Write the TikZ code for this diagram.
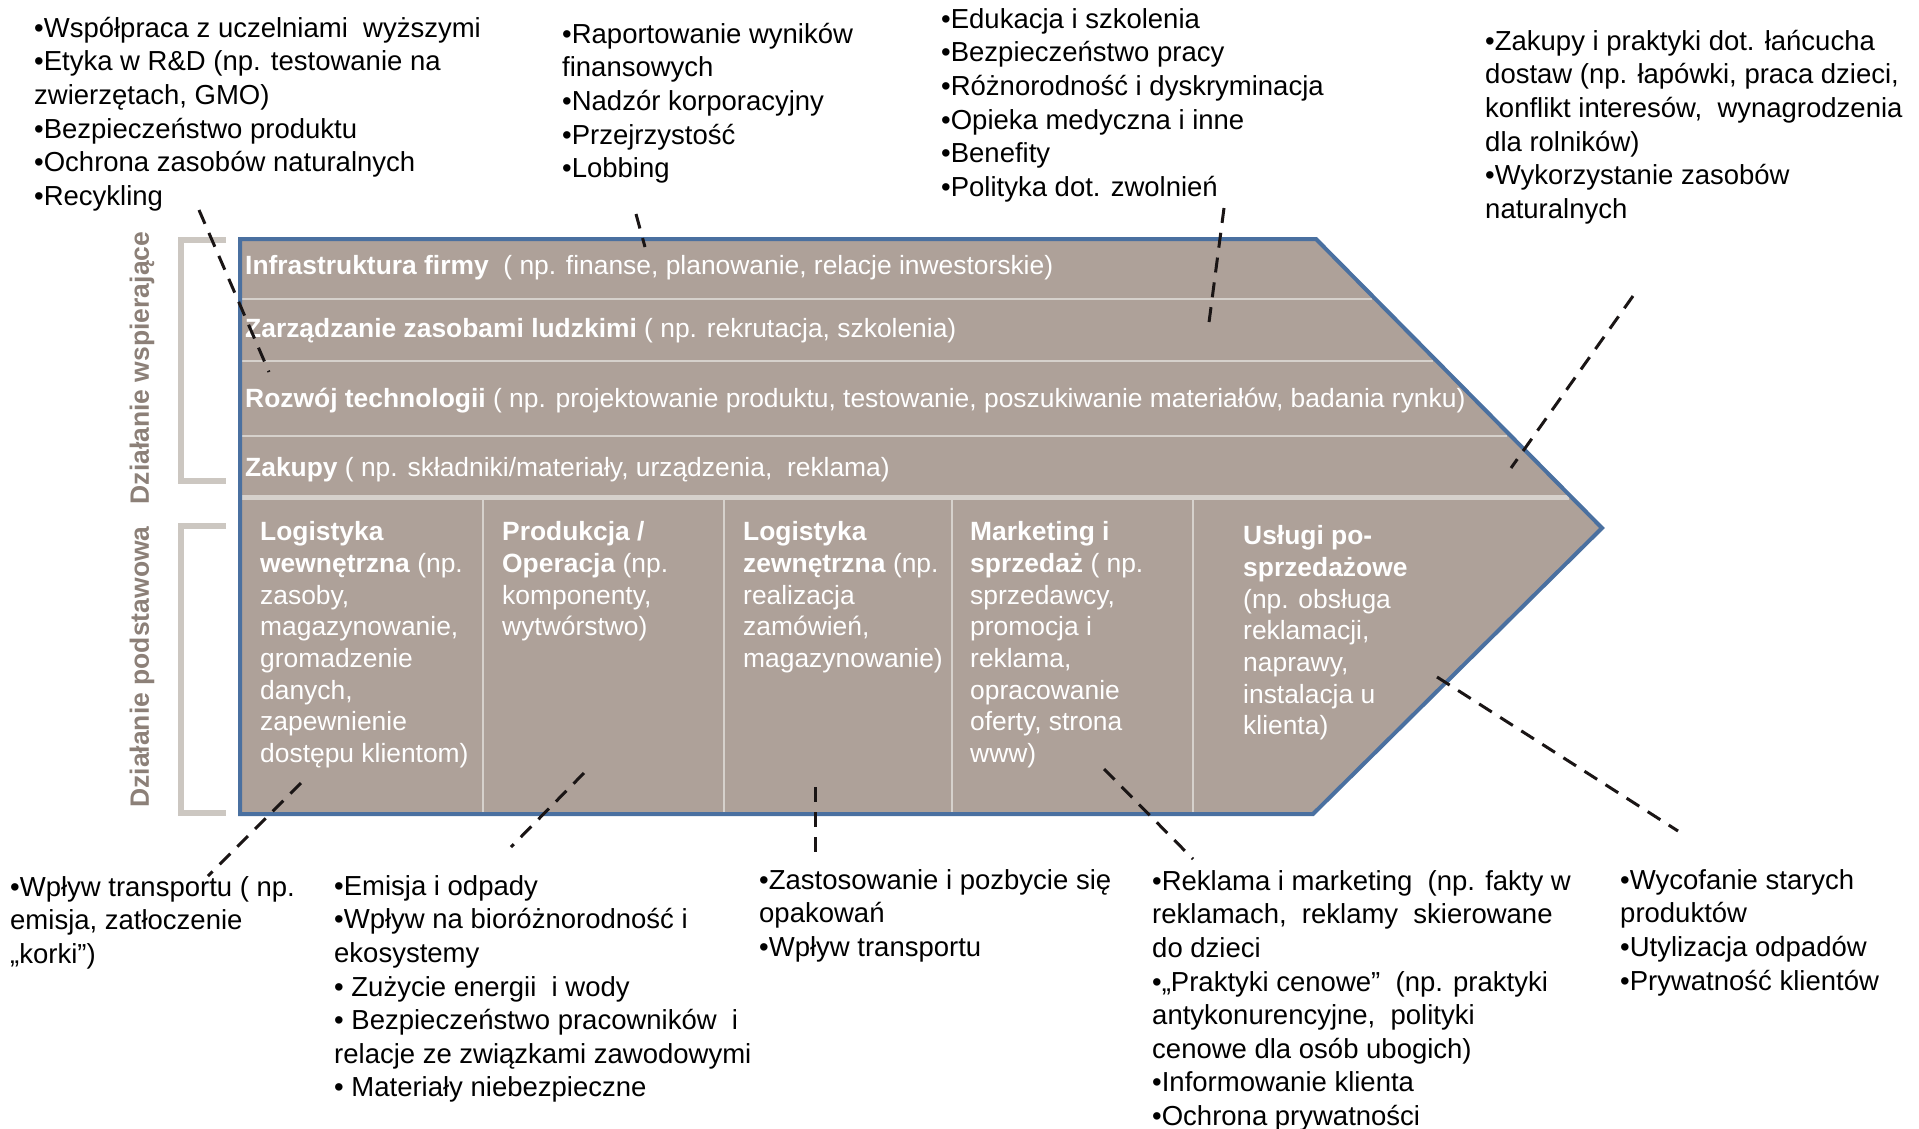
\documentclass[tikz,border=0pt]{standalone}
\usepackage{fontspec}
\setmainfont{Liberation Sans}
\definecolor{taupe}{HTML}{AEA199}
\definecolor{vblue}{HTML}{4A70A0}
\definecolor{divgray}{HTML}{D6D1CC}
\definecolor{brgray}{HTML}{CCC7C1}
\definecolor{lblgray}{HTML}{8C8078}
\definecolor{dashblack}{HTML}{1A1515}
\newcommand{\ostrut}{\rule{0pt}{26pt}}
\newcommand{\bstrut}{\rule{0pt}{25pt}}
\begin{document}
\begin{tikzpicture}[x=1pt,y=-1pt,
  outtxt/.style={anchor=north west, inner sep=0pt, align=left, font=\fontsize{27.5}{33.6}\selectfont},
  rowtxt/.style={anchor=base west, inner sep=0pt, text=white, font=\fontsize{26.4}{31.7}\selectfont},
  coltxt/.style={rowtxt, anchor=north west, align=left},
  conn/.style={draw=dashblack, line width=3pt, dash pattern=on 15pt off 10pt},
  bracketline/.style={draw=brgray, line width=6pt},
  divline/.style={draw=divgray, line width=2.5pt},
  sidelbl/.style={rotate=90, text=lblgray, font=\bfseries\fontsize{26.5}{30}\selectfont, inner sep=0pt}
]
\fill[white] (0,0) rectangle (1919,1128);
\useasboundingbox (0,0) rectangle (1919,1128);

% chevron shape
\coordinate (tl) at (240,239);
\coordinate (tr) at (1316,239);
\coordinate (tip) at (1602,528);
\coordinate (br) at (1313,814);
\coordinate (bl) at (240,814);
\fill[taupe] (tl) -- (tr) -- (tip) -- (br) -- (bl) -- cycle;

% support rows dividers
\draw[divline] (240,299) -- (1372,299);
\draw[divline] (240,361) -- (1433,361);
\draw[divline] (240,436) -- (1507,436);
\draw[draw=divgray, line width=5pt] (240,497) -- (1569,497);
% primary columns dividers
\foreach \xx in {483,724,952,1193} \draw[divline] (\xx,497) -- (\xx,814);

\draw[vblue, line width=4pt, line join=miter] (tl) -- (tr) -- (tip) -- (br) -- (bl) -- cycle;

% brackets
\draw[bracketline] (226,240) -- (181,240) -- (181,481) -- (226,481);
\draw[bracketline] (226,526) -- (181,526) -- (181,813) -- (226,813);
\node[sidelbl] (lsup) at (142,368) {Działanie wspierające};
\node[sidelbl] (lpri) at (142,667) {Działanie podstawowa};

% support rows text
\node[rowtxt] (r1) at (245,274) {\textbf{Infrastruktura firmy}\ \ ( np. finanse, planowanie, relacje inwestorskie)};
\node[rowtxt] (r2) at (245,337.5) {\textbf{Zarządzanie zasobami ludzkimi} ( np. rekrutacja, szkolenia)};
\node[rowtxt] (r3) at (245,407) {\textbf{Rozwój technologii} ( np. projektowanie produktu, testowanie, poszukiwanie materiałów, badania rynku)};
\node[rowtxt] (r4) at (245,476) {\textbf{Zakupy} ( np. składniki/materiały, urządzenia,\ \ reklama)};

% primary columns text
\node[coltxt] (c1) at (260,515.5) {\bstrut\textbf{Logistyka}\\\textbf{wewnętrzna} (np.\\zasoby,\\magazynowanie,\\gromadzenie\\danych,\\zapewnienie\\dostępu klientom)};
\node[coltxt] (c2) at (502,515.5) {\bstrut\textbf{Produkcja /}\\\textbf{Operacja} (np.\\komponenty,\\wytwórstwo)};
\node[coltxt] (c3) at (743,515.5) {\bstrut\textbf{Logistyka}\\\textbf{zewnętrzna} (np.\\realizacja\\zamówień,\\magazynowanie)};
\node[coltxt] (c4) at (970,515.5) {\bstrut\textbf{Marketing i}\\\textbf{sprzedaż} ( np.\\sprzedawcy,\\promocja i\\reklama,\\opracowanie\\oferty, strona\\www)};
\node[coltxt] (c5) at (1243,519.5) {\bstrut\textbf{Usługi po-}\\\textbf{sprzedażowe}\\(np. obsługa\\reklamacji,\\naprawy,\\instalacja u\\klienta)};

% outside text blocks
\node[outtxt] (t1) at (34,11) {\ostrut•Współpraca z uczelniami\ \ wyższymi\\•Etyka w R\&D (np. testowanie na\\zwierzętach, GMO)\\•Bezpieczeństwo produktu\\•Ochrona zasobów naturalnych\\•Recykling};
\node[outtxt] (t2) at (562,17) {\ostrut•Raportowanie wyników\\finansowych\\•Nadzór korporacyjny\\•Przejrzystość\\•Lobbing};
\node[outtxt] (t3) at (941,2) {\ostrut•Edukacja i szkolenia\\•Bezpieczeństwo pracy\\•Różnorodność i dyskryminacja\\•Opieka medyczna i inne\\•Benefity\\•Polityka dot. zwolnień};
\node[outtxt] (t4) at (1485,24) {\ostrut•Zakupy i praktyki dot. łańcucha\\dostaw (np. łapówki, praca dzieci,\\konflikt interesów,\ \ wynagrodzenia\\dla rolników)\\•Wykorzystanie zasobów\\naturalnych};

\node[outtxt] (b1) at (10,870) {\ostrut•Wpływ transportu ( np.\\emisja, zatłoczenie\\„korki”)};
\node[outtxt] (b2) at (334,869) {\ostrut•Emisja i odpady\\•Wpływ na bioróżnorodność i\\ekosystemy\\• Zużycie energii\ \ i wody\\• Bezpieczeństwo pracowników\ \ i\\relacje ze związkami zawodowymi\\• Materiały niebezpieczne};
\node[outtxt] (b3) at (759,863) {\ostrut•Zastosowanie i pozbycie się\\opakowań\\•Wpływ transportu};
\node[outtxt] (b4) at (1152,864) {\ostrut•Reklama i marketing\ \ (np. fakty w\\reklamach,\ \ reklamy\ \ skierowane\\do dzieci\\•„Praktyki cenowe”\ \ (np. praktyki\\antykonurencyjne,\ \ polityki\\cenowe dla osób ubogich)\\•Informowanie klienta\\•Ochrona prywatności};
\node[outtxt] (b5) at (1620,863) {\ostrut•Wycofanie starych\\produktów\\•Utylizacja odpadów\\•Prywatność klientów};

% connector end points
\coordinate (k1a) at (199,210);  \coordinate (k1b) at (269,372);
\coordinate (k2a) at (636,214);  \coordinate (k2b) at (645,247);
\coordinate (k3a) at (1224,208); \coordinate (k3b) at (1208,330);
\coordinate (k4a) at (1633,296); \coordinate (k4b) at (1511,468);
\coordinate (k5a) at (301,783);  \coordinate (k5b) at (208,876);
\coordinate (k6a) at (584,773);  \coordinate (k6b) at (511,847);
\coordinate (k7a) at (815,787);  \coordinate (k7b) at (815,858);
\coordinate (k8a) at (1104,769); \coordinate (k8b) at (1193,859);
\coordinate (k9a) at (1437,677); \coordinate (k9b) at (1678,831);

\draw[conn] (k1a) -- (k1b);
\draw[conn] (k2a) -- (k2b);
\draw[conn] (k3a) -- (k3b);
\draw[conn] (k4a) -- (k4b);
\draw[conn] (k5a) -- (k5b);
\draw[conn] (k6a) -- (k6b);
\draw[conn] (k7a) -- (k7b);
\draw[conn] (k8a) -- (k8b);
\draw[conn] (k9a) -- (k9b);
\end{tikzpicture}
\end{document}
